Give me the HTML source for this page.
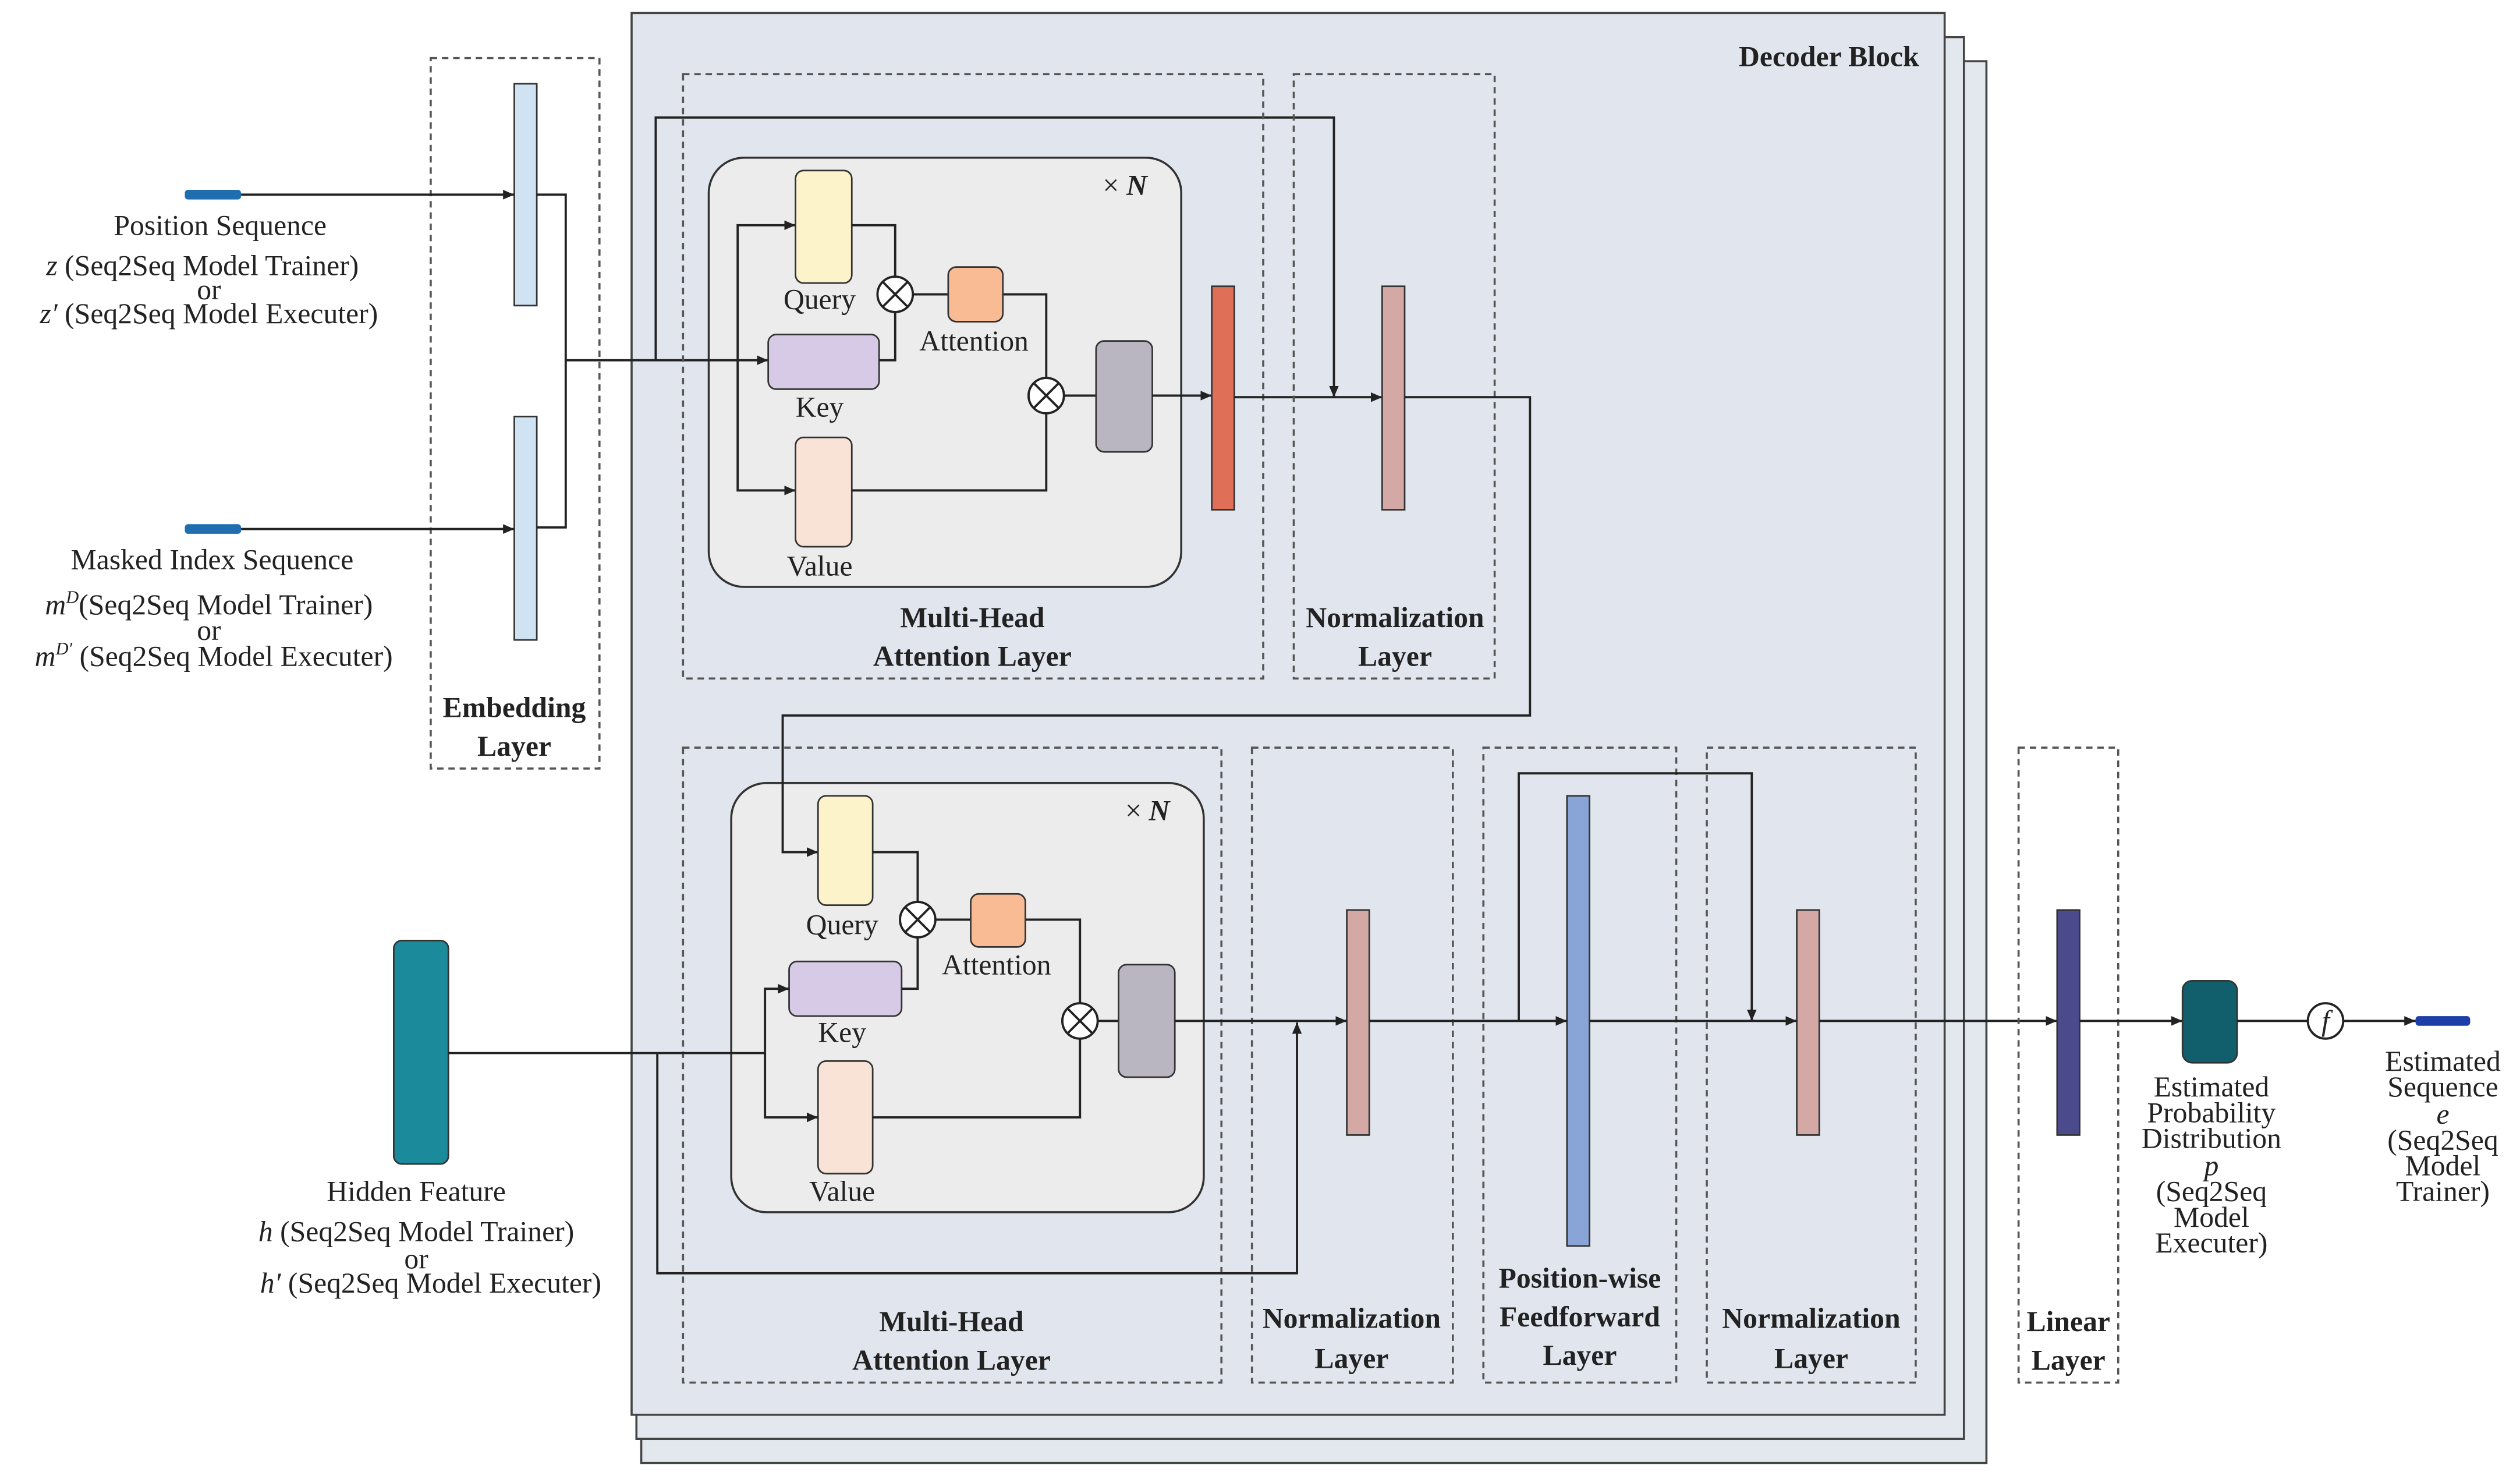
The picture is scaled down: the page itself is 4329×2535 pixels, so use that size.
<!DOCTYPE html>
<html><head><meta charset="utf-8"><style>
html,body{margin:0;padding:0;background:#fff}
svg{display:block}
text{font-family:"Liberation Serif",serif;font-size:18px;fill:#222}
.b{font-weight:bold}
.d{fill:none;stroke:#555;stroke-width:1.3;stroke-dasharray:4,3}
.l{fill:none;stroke:#222;stroke-width:1.4}
</style></head><body>
<svg width="4329" height="2535" viewBox="0 0 1568 918" xmlns="http://www.w3.org/2000/svg">
<defs><marker id="a" markerWidth="8" markerHeight="8" refX="7" refY="4" orient="auto" markerUnits="userSpaceOnUse"><path d="M0,1 L7,4 L0,7z" fill="#222"/></marker></defs>
<rect x="399" y="38" width="837" height="872" fill="#e3e7ee" stroke="#444" stroke-width="1.3"/>
<rect x="396" y="23" width="826" height="872" fill="#e3e7ee" stroke="#444" stroke-width="1.3"/>
<rect x="393" y="8" width="817" height="872" fill="#e1e6ee" stroke="#444" stroke-width="1.3"/>
<text x="1138" y="41" text-anchor="middle" class="b">Decoder Block</text>
<rect x="268" y="36" width="105" height="442" class="d"/>
<rect x="320" y="52" width="14" height="138" fill="#cfe3f3" stroke="#333"/>
<rect x="320" y="259" width="14" height="139" fill="#cfe3f3" stroke="#333"/>
<text x="320" y="446" text-anchor="middle" class="b">Embedding</text>
<text x="320" y="470" text-anchor="middle" class="b">Layer</text>
<rect x="115" y="118" width="35" height="6" rx="2" fill="#1f6fb0"/>
<rect x="115" y="326" width="35" height="6" rx="2" fill="#1f6fb0"/>
<path class="l" d="M150,121 H320" marker-end="url(#a)"/>
<path class="l" d="M150,329 H320" marker-end="url(#a)"/>
<text x="137" y="146" text-anchor="middle">Position Sequence</text>
<text x="126" y="171" text-anchor="middle"><tspan font-style="italic">z</tspan> (Seq2Seq Model Trainer)</text>
<text x="130" y="186" text-anchor="middle">or</text>
<text x="130" y="201" text-anchor="middle"><tspan font-style="italic">z′</tspan> (Seq2Seq Model Executer)</text>
<text x="132" y="354" text-anchor="middle">Masked Index Sequence</text>
<text x="130" y="382" text-anchor="middle"><tspan font-style="italic">m</tspan><tspan font-style="italic" font-size="11" dy="-7">D</tspan><tspan dy="7">(Seq2Seq Model Trainer)</tspan></text>
<text x="130" y="398" text-anchor="middle">or</text>
<text x="133" y="414" text-anchor="middle"><tspan font-style="italic">m</tspan><tspan font-style="italic" font-size="11" dy="-7">D′</tspan><tspan dy="7"> (Seq2Seq Model Executer)</tspan></text>
<path class="l" d="M334,121 H352 V328 H334 M352,224 H440" />
<path class="l" d="M408,224 V73 H830 V247" marker-end="url(#a)"/>
<rect x="425" y="46" width="361" height="376" class="d"/>
<rect x="441" y="98" width="294" height="267" rx="22" fill="#ececec" stroke="#333" stroke-width="1.3"/>
<text x="700" y="121" text-anchor="middle">× <tspan font-weight="bold" font-style="italic">N</tspan></text>
<path class="l" d="M440,224 H478" marker-end="url(#a)"/>
<path class="l" d="M459,224 V140 H495" marker-end="url(#a)"/>
<path class="l" d="M459,224 V305 H495" marker-end="url(#a)"/>
<rect x="495" y="106" width="35" height="70" rx="5" fill="#fdf3cb" stroke="#333"/>
<rect x="478" y="208" width="69" height="34" rx="5" fill="#d6cae6" stroke="#333"/>
<rect x="495" y="272" width="35" height="68" rx="5" fill="#f9e2d6" stroke="#333"/>
<text x="510" y="192" text-anchor="middle">Query</text>
<text x="510" y="259" text-anchor="middle">Key</text>
<text x="510" y="358" text-anchor="middle">Value</text>
<path class="l" d="M530,140 H557 V172 M547,224 H557 V194 M568,183 H590 M624,183 H651 V235 M530,305 H651 V257 M662,246 H682"/>
<circle cx="557" cy="183" r="11" fill="#fff" stroke="#222" stroke-width="1.4"/>
<path class="l" d="M549,175 L565,191 M565,175 L549,191"/>
<rect x="590" y="166" width="34" height="34" rx="5" fill="#f8bb93" stroke="#333"/>
<text x="606" y="218" text-anchor="middle">Attention</text>
<circle cx="651" cy="246" r="11" fill="#fff" stroke="#222" stroke-width="1.4"/>
<path class="l" d="M643,238 L659,254 M659,238 L643,254"/>
<rect x="682" y="212" width="35" height="69" rx="5" fill="#b9b6c1" stroke="#333"/>
<path class="l" d="M717,246 H754" marker-end="url(#a)"/>
<rect x="754" y="178" width="14" height="139" fill="#e06f58" stroke="#333"/>
<path class="l" d="M768,247 H860" marker-end="url(#a)"/>
<text x="605" y="390" text-anchor="middle" class="b">Multi-Head</text>
<text x="605" y="414" text-anchor="middle" class="b">Attention Layer</text>
<rect x="805" y="46" width="125" height="376" class="d"/>
<rect x="860" y="178" width="14" height="139" fill="#d4a9a5" stroke="#333"/>
<text x="868" y="390" text-anchor="middle" class="b">Normalization</text>
<text x="868" y="414" text-anchor="middle" class="b">Layer</text>
<rect x="425" y="465" width="335" height="395" class="d"/>
<rect x="455" y="487" width="294" height="267" rx="22" fill="#ececec" stroke="#333" stroke-width="1.3"/>
<path class="l" d="M874,247 H952 V445 H487 V530 H509" marker-end="url(#a)"/>
<text x="714" y="510" text-anchor="middle">× <tspan font-weight="bold" font-style="italic">N</tspan></text>
<rect x="509" y="495" width="34" height="68" rx="5" fill="#fdf3cb" stroke="#333"/>
<rect x="491" y="598" width="70" height="34" rx="5" fill="#d6cae6" stroke="#333"/>
<rect x="509" y="660" width="34" height="70" rx="5" fill="#f9e2d6" stroke="#333"/>
<text x="524" y="581" text-anchor="middle">Query</text>
<text x="524" y="648" text-anchor="middle">Key</text>
<text x="524" y="747" text-anchor="middle">Value</text>
<path class="l" d="M543,530 H571 V561 M561,615 H571 V583 M582,572 H604 M638,572 H672 V624 M543,695 H672 V646 M683,635 H696"/>
<circle cx="571" cy="572" r="11" fill="#fff" stroke="#222" stroke-width="1.4"/>
<path class="l" d="M563,564 L579,580 M579,564 L563,580"/>
<rect x="604" y="556" width="34" height="33" rx="5" fill="#f8bb93" stroke="#333"/>
<text x="620" y="606" text-anchor="middle">Attention</text>
<circle cx="672" cy="635" r="11" fill="#fff" stroke="#222" stroke-width="1.4"/>
<path class="l" d="M664,627 L680,643 M680,627 L664,643"/>
<rect x="696" y="600" width="35" height="70" rx="5" fill="#b9b6c1" stroke="#333"/>
<text x="592" y="828" text-anchor="middle" class="b">Multi-Head</text>
<text x="592" y="852" text-anchor="middle" class="b">Attention Layer</text>
<rect x="245" y="585" width="34" height="139" rx="5" fill="#1b8a9b" stroke="#333"/>
<text x="259" y="747" text-anchor="middle">Hidden Feature</text>
<text x="259" y="772" text-anchor="middle"><tspan font-style="italic">h</tspan> (Seq2Seq Model Trainer)</text>
<text x="259" y="789" text-anchor="middle">or</text>
<text x="268" y="804" text-anchor="middle"><tspan font-style="italic">h′</tspan> (Seq2Seq Model Executer)</text>
<path class="l" d="M279,655 H476"/>
<path class="l" d="M476,655 V615 H491" marker-end="url(#a)"/>
<path class="l" d="M476,655 V695 H509" marker-end="url(#a)"/>
<path class="l" d="M409,655 V792 H807 V636" marker-end="url(#a)"/>
<rect x="779" y="465" width="125" height="395" class="d"/>
<rect x="838" y="566" width="14" height="140" fill="#d4a9a5" stroke="#333"/>
<text x="841" y="826" text-anchor="middle" class="b">Normalization</text>
<text x="841" y="851" text-anchor="middle" class="b">Layer</text>
<rect x="923" y="465" width="120" height="395" class="d"/>
<rect x="975" y="495" width="14" height="280" fill="#89a5d8" stroke="#333"/>
<text x="983" y="801" text-anchor="middle" class="b">Position-wise</text>
<text x="983" y="825" text-anchor="middle" class="b">Feedforward</text>
<text x="983" y="849" text-anchor="middle" class="b">Layer</text>
<rect x="1062" y="465" width="130" height="395" class="d"/>
<rect x="1118" y="566" width="14" height="140" fill="#d4a9a5" stroke="#333"/>
<text x="1127" y="826" text-anchor="middle" class="b">Normalization</text>
<text x="1127" y="851" text-anchor="middle" class="b">Layer</text>
<path class="l" d="M731,635 H838" marker-end="url(#a)"/>
<path class="l" d="M852,635 H975" marker-end="url(#a)"/>
<path class="l" d="M945,635 V481 H1090 V635" marker-end="url(#a)"/>
<path class="l" d="M989,635 H1118" marker-end="url(#a)"/>
<path class="l" d="M1132,635 H1280" marker-end="url(#a)"/>
<rect x="1256" y="465" width="62" height="395" class="d"/>
<rect x="1280" y="566" width="14" height="140" fill="#4b4a8c" stroke="#333"/>
<text x="1287" y="828" text-anchor="middle" class="b">Linear</text>
<text x="1287" y="852" text-anchor="middle" class="b">Layer</text>
<path class="l" d="M1294,635 H1358" marker-end="url(#a)"/>
<rect x="1358" y="610" width="34" height="51" rx="6" fill="#115f6d" stroke="#333"/>
<path class="l" d="M1392,635 H1436"/>
<circle cx="1447" cy="635" r="11" fill="#fff" stroke="#222" stroke-width="1.4"/>
<text x="1447" y="641" text-anchor="middle" font-style="italic" font-size="15">f</text>
<path class="l" d="M1458,635 H1503" marker-end="url(#a)"/>
<rect x="1503" y="632" width="34" height="6" rx="2" fill="#1f3fa8"/>
<g text-anchor="middle">
<text x="1376" y="682">Estimated</text>
<text x="1376" y="698">Probability</text>
<text x="1376" y="714">Distribution</text>
<text x="1376" y="731" font-style="italic">p</text>
<text x="1376" y="747">(Seq2Seq</text>
<text x="1376" y="763">Model</text>
<text x="1376" y="779">Executer)</text>
<text x="1520" y="666">Estimated</text>
<text x="1520" y="682">Sequence</text>
<text x="1520" y="699" font-style="italic">e</text>
<text x="1520" y="715">(Seq2Seq</text>
<text x="1520" y="731">Model</text>
<text x="1520" y="747">Trainer)</text>
</g>
</svg>
</body></html>
